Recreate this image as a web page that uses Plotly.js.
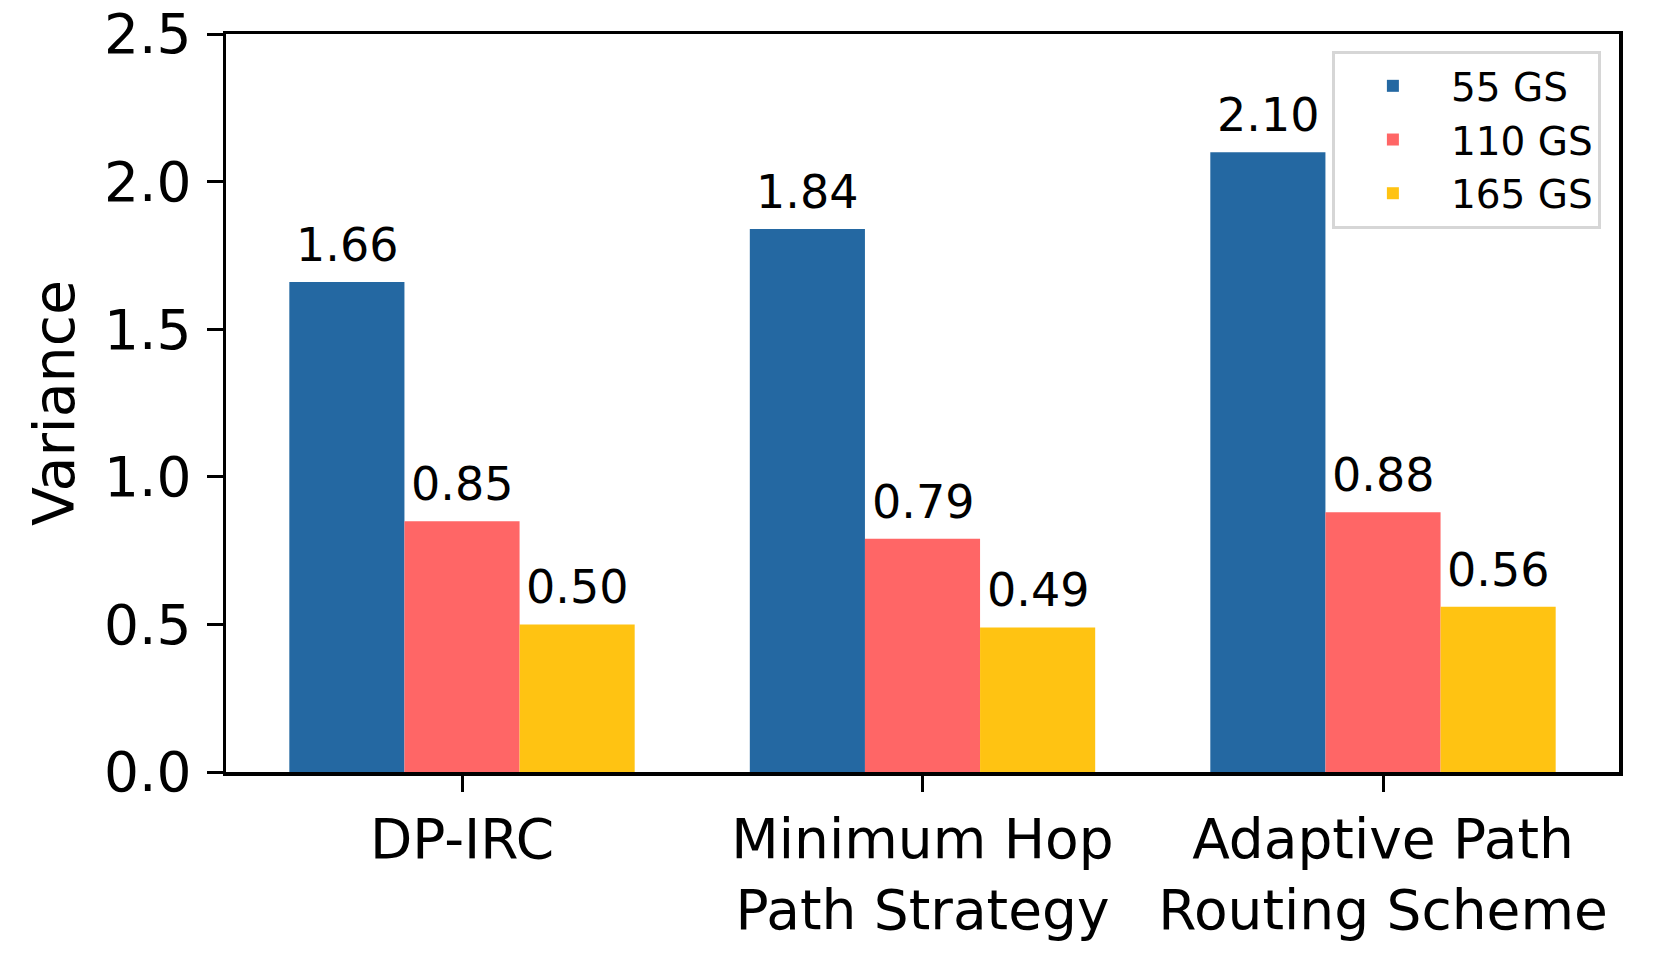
<!DOCTYPE html>
<html>
<head>
<meta charset="utf-8">
<script src="https://cdn.plot.ly/plotly-3.0.1.min.js"></script>
<style>html,body{margin:0;padding:0;background:#fff;}#chart{width:1659px;height:977px;}</style>
</head>
<body>
<div id="chart"></div>
<script>
const categories = ["DP-IRC", "Minimum Hop<br>Path Strategy", "Adaptive Path<br>Routing Scheme"];
const seriesNames = ["55 GS", "110 GS", "165 GS"];
const gs55 = [1.66, 1.84, 2.10];
const gs110 = [0.85, 0.79, 0.88];
const gs165 = [0.50, 0.49, 0.56];
const yTicks = [0, 0.5, 1.0, 1.5, 2.0, 2.5];

const colors = ["#2468A2", "#FF6666", "#FFC312"];
const series = [gs55, gs110, gs165];
const offsets = [-0.25, 0, 0.25];
const xIdx = categories.map((c, i) => i);

const FONT = "DejaVu Sans, Liberation Sans, sans-serif";

const traces = series.map((vals, k) => ({
  type: "bar",
  name: seriesNames[k],
  x: xIdx,
  y: vals,
  marker: { color: colors[k], line: { width: 0 } },
  hoverinfo: "skip"
}));

const annotations = [];
series.forEach((vals, k) => {
  vals.forEach((v, i) => {
    annotations.push({
      x: i + offsets[k], y: v, xref: "x", yref: "y",
      text: v.toFixed(2), showarrow: false,
      xanchor: "center", yanchor: "bottom", yshift: 8,
      font: { family: FONT, size: 46, color: "#000" }
    });
  });
});

const layout = {
  width: 1659, height: 977,
  margin: { l: 226, r: 40, t: 34, b: 205 },
  paper_bgcolor: "#fff", plot_bgcolor: "#fff",
  barmode: "group", bargap: 0.25, bargroupgap: 0,
  font: { family: FONT, color: "#000" },
  xaxis: {
    range: [-0.5125, 2.5125],
    tickvals: xIdx, ticktext: categories,
    showgrid: false, zeroline: false,
    showline: true, linecolor: "#000", linewidth: 3.5, mirror: true,
    ticks: "outside", ticklen: 16, tickwidth: 3, tickcolor: "#000",
    ticklabelstandoff: 0,
    tickfont: { family: FONT, size: 55, color: "#000" }
  },
  yaxis: {
    range: [0, 2.5005],
    tickvals: yTicks, tickformat: ".1f",
    showgrid: false, zeroline: false,
    showline: true, linecolor: "#000", linewidth: 3.5, mirror: true,
    ticks: "outside", ticklen: 16, tickwidth: 3, tickcolor: "#000",
    ticklabelstandoff: 4, ticklabeloverflow: "allow",
    tickfont: { family: FONT, size: 55, color: "#000" },
    title: { text: "Variance", standoff: 12, font: { family: FONT, size: 57, color: "#000" } }
  },
  legend: {
    x: 0.987, y: 0.977, xanchor: "right", yanchor: "top",
    bgcolor: "rgba(255,255,255,0.85)", bordercolor: "#d6d6d6", borderwidth: 3,
    font: { family: FONT, size: 39, color: "#000" },
    itemwidth: 106, tracegroupgap: 0
  },
  annotations: annotations,
  showlegend: true
};

Plotly.newPlot("chart", traces, layout, { displayModeBar: false, staticPlot: true });
</script>
</body>
</html>
